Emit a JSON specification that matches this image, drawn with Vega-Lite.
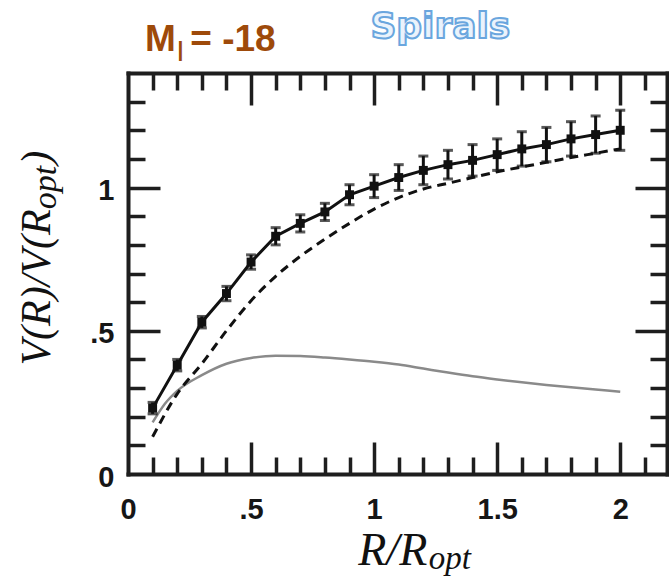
{
  "$schema": "https://vega.github.io/schema/vega-lite/v6.json",
  "width": 539,
  "height": 401,
  "autosize": "none",
  "padding": {"left": 128, "top": 73, "right": 2, "bottom": 103},
  "background": "white",
  "config": {
    "view": {"stroke": null},
    "axis": {
      "grid": false,
      "domainColor": "#1e1e1e",
      "domainWidth": 4,
      "domainCap": "square",
      "tickColor": "#1e1e1e",
      "tickWidth": 3.5,
      "labelFont": "Liberation Sans",
      "labelFontWeight": "bold",
      "labelFontSize": 29,
      "labelColor": "#161616",
      "labelFlush": false,
      "labelOverlap": false,
      "labelBound": false
    }
  },
  "datasets": {
    "rotation": [
      {"r": 0.1, "v": 0.23, "lo": 0.21, "hi": 0.25},
      {"r": 0.2, "v": 0.38, "lo": 0.36, "hi": 0.4},
      {"r": 0.3, "v": 0.53, "lo": 0.51, "hi": 0.55},
      {"r": 0.4, "v": 0.63, "lo": 0.605, "hi": 0.655},
      {"r": 0.5, "v": 0.74, "lo": 0.715, "hi": 0.765},
      {"r": 0.6, "v": 0.83, "lo": 0.8, "hi": 0.86},
      {"r": 0.7, "v": 0.875, "lo": 0.845, "hi": 0.905},
      {"r": 0.8, "v": 0.915, "lo": 0.885, "hi": 0.945},
      {"r": 0.9, "v": 0.975, "lo": 0.94, "hi": 1.01},
      {"r": 1.0, "v": 1.005, "lo": 0.965, "hi": 1.045},
      {"r": 1.1, "v": 1.035, "lo": 0.99, "hi": 1.08},
      {"r": 1.2, "v": 1.06, "lo": 1.01, "hi": 1.11},
      {"r": 1.3, "v": 1.08, "lo": 1.03, "hi": 1.13},
      {"r": 1.4, "v": 1.095, "lo": 1.04, "hi": 1.15},
      {"r": 1.5, "v": 1.115, "lo": 1.06, "hi": 1.17},
      {"r": 1.6, "v": 1.135, "lo": 1.075, "hi": 1.195},
      {"r": 1.7, "v": 1.15, "lo": 1.09, "hi": 1.21},
      {"r": 1.8, "v": 1.17, "lo": 1.11, "hi": 1.23},
      {"r": 1.9, "v": 1.185, "lo": 1.12, "hi": 1.25},
      {"r": 2.0, "v": 1.2, "lo": 1.13, "hi": 1.27}
    ],
    "halo": [
      {"r": 0.1, "v": 0.13},
      {"r": 0.2, "v": 0.28},
      {"r": 0.3, "v": 0.385},
      {"r": 0.4, "v": 0.5},
      {"r": 0.5, "v": 0.605},
      {"r": 0.6, "v": 0.69},
      {"r": 0.7, "v": 0.76},
      {"r": 0.8, "v": 0.82},
      {"r": 0.9, "v": 0.875},
      {"r": 1.0, "v": 0.925},
      {"r": 1.1, "v": 0.965},
      {"r": 1.2, "v": 0.995},
      {"r": 1.3, "v": 1.015},
      {"r": 1.4, "v": 1.035},
      {"r": 1.5, "v": 1.055},
      {"r": 1.6, "v": 1.072},
      {"r": 1.7, "v": 1.088},
      {"r": 1.8, "v": 1.105},
      {"r": 1.9, "v": 1.12},
      {"r": 2.0, "v": 1.135}
    ],
    "disk": [
      {"r": 0.1, "v": 0.18},
      {"r": 0.15, "v": 0.245},
      {"r": 0.2, "v": 0.29},
      {"r": 0.3, "v": 0.345},
      {"r": 0.4, "v": 0.385},
      {"r": 0.5, "v": 0.405},
      {"r": 0.6, "v": 0.413},
      {"r": 0.7, "v": 0.412},
      {"r": 0.8, "v": 0.407},
      {"r": 0.9, "v": 0.4},
      {"r": 1.0, "v": 0.392},
      {"r": 1.1, "v": 0.382},
      {"r": 1.2, "v": 0.368},
      {"r": 1.3, "v": 0.354},
      {"r": 1.4, "v": 0.341},
      {"r": 1.5, "v": 0.33},
      {"r": 1.6, "v": 0.32},
      {"r": 1.7, "v": 0.311},
      {"r": 1.8, "v": 0.303},
      {"r": 1.9, "v": 0.295},
      {"r": 2.0, "v": 0.287}
    ]
  },
  "resolve": {"axis": {"x": "independent", "y": "independent"}},
  "layer": [
    {
      "data": {"name": "disk"},
      "mark": {"type": "line", "color": "#8a8a8a", "strokeWidth": 2.5, "interpolate": "monotone"},
      "encoding": {
        "x": {"field": "r", "type": "quantitative", "scale": {"domain": [0, 2.19], "nice": false},
          "axis": {"orient": "bottom", "title": null, "values": [0, 0.5, 1, 1.5, 2], "ticks": false, "labelPadding": 21,
            "labelExpr": "datum.value == 0.5 ? '.5' : format(datum.value, '~g')"}},
        "y": {"field": "v", "type": "quantitative", "scale": {"domain": [0, 1.4], "nice": false},
          "axis": {"orient": "left", "title": null, "values": [0, 0.5, 1], "ticks": false, "labelPadding": 14, "labelOffset": 3,
            "labelExpr": "datum.value == 0.5 ? '.5' : format(datum.value, '~g')"}}
      }
    },
    {
      "data": {"name": "halo"},
      "mark": {"type": "line", "color": "#111111", "strokeWidth": 3, "strokeDash": [9, 6], "interpolate": "monotone"},
      "encoding": {
        "x": {"field": "r", "type": "quantitative", "scale": {"domain": [0, 2.19], "nice": false},
          "axis": {"orient": "bottom", "title": null, "labels": false, "domain": false, "ticks": true,
            "tickSize": 32, "offset": -32, "tickWidth": 3.5, "tickColor": "#1e1e1e", "values": [0.5, 1, 1.5, 2]}},
        "y": {"field": "v", "type": "quantitative", "scale": {"domain": [0, 1.4], "nice": false},
          "axis": {"orient": "left", "title": null, "labels": false, "domain": false, "ticks": true,
            "tickSize": 32, "offset": -32, "tickWidth": 3.5, "tickColor": "#1e1e1e", "values": [0.5, 1]}}
      }
    },
    {
      "data": {"name": "rotation"},
      "mark": {"type": "line", "color": "#111111", "strokeWidth": 3},
      "encoding": {
        "x": {"field": "r", "type": "quantitative", "scale": {"domain": [0, 2.19], "nice": false},
          "axis": {"orient": "bottom", "title": null, "labels": false, "domain": false, "ticks": true,
            "tickSize": 17, "offset": -17, "tickWidth": 3.5, "tickColor": "#1e1e1e",
            "values": [0.1, 0.2, 0.3, 0.4, 0.6, 0.7, 0.8, 0.9, 1.1, 1.2, 1.3, 1.4, 1.6, 1.7, 1.8, 1.9, 2.1]}},
        "y": {"field": "v", "type": "quantitative", "scale": {"domain": [0, 1.4], "nice": false},
          "axis": {"orient": "left", "title": null, "labels": false, "domain": false, "ticks": true,
            "tickSize": 17, "offset": -17, "tickWidth": 3.5, "tickColor": "#1e1e1e",
            "values": [0.1, 0.2, 0.3, 0.4, 0.6, 0.7, 0.8, 0.9, 1.1, 1.2, 1.3]}}
      }
    },
    {
      "data": {"name": "rotation"},
      "mark": {"type": "rule", "color": "#111111", "strokeWidth": 3},
      "encoding": {
        "x": {"field": "r", "type": "quantitative", "scale": {"domain": [0, 2.19], "nice": false},
          "axis": {"orient": "top", "title": null, "labels": false, "ticks": false, "values": [0.5, 1]}},
        "y": {"field": "lo", "type": "quantitative", "scale": {"domain": [0, 1.4], "nice": false},
          "axis": {"orient": "right", "title": null, "labels": false, "ticks": false, "values": [0.5, 1]}},
        "y2": {"field": "hi"}
      }
    },
    {
      "data": {"name": "rotation"},
      "mark": {"type": "tick", "orient": "horizontal", "color": "#111111", "size": 10, "thickness": 3},
      "encoding": {
        "x": {"field": "r", "type": "quantitative", "scale": {"domain": [0, 2.19], "nice": false},
          "axis": {"orient": "top", "title": null, "labels": false, "domain": false, "ticks": true,
            "tickSize": 32, "offset": -32, "tickWidth": 3.5, "tickColor": "#1e1e1e", "values": [0.5, 1, 1.5, 2]}},
        "y": {"field": "hi", "type": "quantitative", "scale": {"domain": [0, 1.4], "nice": false},
          "axis": {"orient": "right", "title": null, "labels": false, "domain": false, "ticks": true,
            "tickSize": 32, "offset": -32, "tickWidth": 3.5, "tickColor": "#1e1e1e", "values": [0.5, 1]}}
      }
    },
    {
      "data": {"name": "rotation"},
      "mark": {"type": "tick", "orient": "horizontal", "color": "#111111", "size": 10, "thickness": 3},
      "encoding": {
        "x": {"field": "r", "type": "quantitative", "scale": {"domain": [0, 2.19], "nice": false},
          "axis": {"orient": "top", "title": null, "labels": false, "domain": false, "ticks": true,
            "tickSize": 17, "offset": -17, "tickWidth": 3.5, "tickColor": "#1e1e1e",
            "values": [0.1, 0.2, 0.3, 0.4, 0.6, 0.7, 0.8, 0.9, 1.1, 1.2, 1.3, 1.4, 1.6, 1.7, 1.8, 1.9, 2.1]}},
        "y": {"field": "lo", "type": "quantitative", "scale": {"domain": [0, 1.4], "nice": false},
          "axis": {"orient": "right", "title": null, "labels": false, "domain": false, "ticks": true,
            "tickSize": 17, "offset": -17, "tickWidth": 3.5, "tickColor": "#1e1e1e",
            "values": [0.1, 0.2, 0.3, 0.4, 0.6, 0.7, 0.8, 0.9, 1.1, 1.2, 1.3]}}
      }
    },
    {
      "data": {"name": "rotation"},
      "mark": {"type": "point", "shape": "square", "filled": true, "color": "#111111", "size": 80, "opacity": 1},
      "encoding": {
        "x": {"field": "r", "type": "quantitative", "axis": null},
        "y": {"field": "v", "type": "quantitative", "axis": null}
      }
    },
    {
      "data": {"values": [{}]},
      "mark": {"type": "text", "text": "M", "font": "Liberation Sans", "fontWeight": "bold", "fontSize": 37, "color": "#9e4a0a", "align": "left", "baseline": "alphabetic"},
      "encoding": {
        "x": {"datum": 0.0695, "type": "quantitative", "axis": null},
        "y": {"datum": 1.476, "type": "quantitative", "axis": null}
      }
    },
    {
      "data": {"values": [{}]},
      "mark": {"type": "text", "text": "I", "font": "Liberation Sans", "fontSize": 30, "color": "#9e4a0a", "align": "left", "baseline": "alphabetic"},
      "encoding": {
        "x": {"datum": 0.196, "type": "quantitative", "axis": null},
        "y": {"datum": 1.441, "type": "quantitative", "axis": null}
      }
    },
    {
      "data": {"values": [{}]},
      "mark": {"type": "text", "text": "= -18", "font": "Liberation Sans", "fontWeight": "bold", "fontSize": 37, "color": "#9e4a0a", "align": "left", "baseline": "alphabetic"},
      "encoding": {
        "x": {"datum": 0.253, "type": "quantitative", "axis": null},
        "y": {"datum": 1.476, "type": "quantitative", "axis": null}
      }
    },
    {
      "data": {"values": [{}]},
      "mark": {"type": "text", "text": "Spirals", "font": "DejaVu Sans", "fontWeight": "bold", "fontSize": 36, "fill": "#eaf3fc", "stroke": "#6aa6de", "strokeWidth": 2, "align": "left", "baseline": "alphabetic"},
      "encoding": {
        "x": {"datum": 0.985, "type": "quantitative", "axis": null},
        "y": {"datum": 1.521, "type": "quantitative", "axis": null}
      }
    },
    {
      "data": {"values": [{}]},
      "mark": {"type": "text", "text": "R/R", "font": "Liberation Serif", "fontStyle": "italic", "fontSize": 46, "color": "#111111", "align": "right", "baseline": "alphabetic"},
      "encoding": {
        "x": {"datum": 1.216, "type": "quantitative", "axis": null},
        "y": {"datum": -0.319, "type": "quantitative", "axis": null}
      }
    },
    {
      "data": {"values": [{}]},
      "mark": {"type": "text", "text": "opt", "font": "Liberation Serif", "fontStyle": "italic", "fontSize": 33, "color": "#111111", "align": "left", "baseline": "alphabetic"},
      "encoding": {
        "x": {"datum": 1.222, "type": "quantitative", "axis": null},
        "y": {"datum": -0.33, "type": "quantitative", "axis": null}
      }
    },
    {
      "data": {"values": [{}]},
      "mark": {"type": "text", "text": "V(R)/V(R", "font": "Liberation Serif", "fontStyle": "italic", "fontSize": 42, "color": "#111111", "align": "right", "baseline": "alphabetic", "angle": 270},
      "encoding": {
        "x": {"datum": -0.316, "type": "quantitative", "axis": null},
        "y": {"datum": 0.924, "type": "quantitative", "axis": null}
      }
    },
    {
      "data": {"values": [{}]},
      "mark": {"type": "text", "text": "opt", "font": "Liberation Serif", "fontStyle": "italic", "fontSize": 34, "color": "#111111", "align": "left", "baseline": "alphabetic", "angle": 270},
      "encoding": {
        "x": {"datum": -0.291, "type": "quantitative", "axis": null},
        "y": {"datum": 0.924, "type": "quantitative", "axis": null}
      }
    },
    {
      "data": {"values": [{}]},
      "mark": {"type": "text", "text": ")", "font": "Liberation Serif", "fontStyle": "italic", "fontSize": 42, "color": "#111111", "align": "left", "baseline": "alphabetic", "angle": 270},
      "encoding": {
        "x": {"datum": -0.316, "type": "quantitative", "axis": null},
        "y": {"datum": 1.08, "type": "quantitative", "axis": null}
      }
    }
  ]
}
